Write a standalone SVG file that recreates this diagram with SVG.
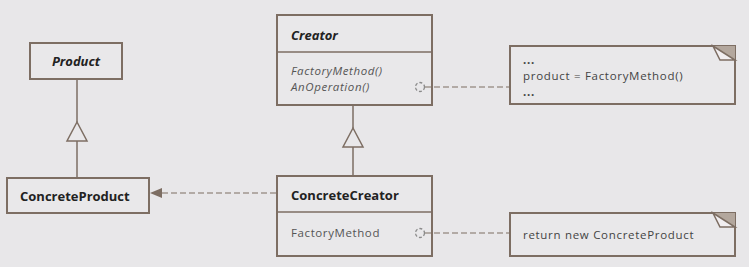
<svg xmlns="http://www.w3.org/2000/svg" width="749" height="267" viewBox="0 0 749 267">
  <style>
    .box { fill: #e9e8ea; stroke: #7d6e63; stroke-width: 2; }
    .line { fill: none; stroke: #7d6e63; stroke-width: 1.5; }
    .dash { fill: none; stroke: #7d6e63; stroke-width: 1.2; stroke-dasharray: 6 3; }
    .tri { fill: #e9e8ea; stroke: #7d6e63; stroke-width: 1.5; }
    .title { font-family: "Open Sans", "DejaVu Sans", sans-serif; font-size: 13px; font-weight: bold; fill: #222; }
    .ital { font-style: italic; }
    .member { font-family: "Open Sans", "DejaVu Sans", sans-serif; font-size: 11.5px; letter-spacing: 0.6px; fill: #555; }
    .note { font-family: "Open Sans", "DejaVu Sans", sans-serif; font-size: 11.5px; letter-spacing: 0.7px; fill: #444; }
    .port { fill: #e9e8ea; stroke: #8a8a8a; stroke-width: 1.3; stroke-dasharray: 3 2; }
  </style>
  <defs>
    <marker id="arrow" markerWidth="12" markerHeight="10" refX="11" refY="5" orient="auto" markerUnits="userSpaceOnUse">
      <path d="M0,0 L12,5 L0,10 Z" fill="#7d6e63"/>
    </marker>
  </defs>
  <rect width="749" height="267" fill="#e8e7e9"/>

  <g id="product">
    <rect class="box" x="30" y="43" width="92" height="36"/>
    <text class="title ital" x="76" y="66" text-anchor="middle">Product</text>
  </g>

  <g id="concrete-product">
    <rect class="box" x="7" y="178" width="142" height="35"/>
    <text class="title" x="20" y="201">ConcreteProduct</text>
  </g>

  <g id="creator">
    <rect class="box" x="277" y="15" width="155" height="90"/>
    <line class="line" x1="277" y1="52" x2="432" y2="52" stroke-width="2"/>
    <text class="title ital" x="291" y="40">Creator</text>
    <text class="member ital" x="291" y="75">FactoryMethod()</text>
    <text class="member ital" x="291" y="91">AnOperation()</text>
  </g>

  <g id="concrete-creator">
    <rect class="box" x="277" y="176" width="155" height="80"/>
    <line class="line" x1="277" y1="212" x2="432" y2="212" stroke-width="2"/>
    <text class="title" x="291" y="200">ConcreteCreator</text>
    <text class="member" x="291" y="237">FactoryMethod</text>
  </g>

  <g id="note-operation">
    <path class="box" d="M510,46 H735 V104 H510 Z"/>
    <polygon points="713,46 735,46 735,60" fill="#b3a79d"/>
    <polygon points="713,46 735,60 720,60" fill="#f1eef0" stroke="#7d6e63" stroke-width="1.5"/>
    <text class="note" x="523" y="64" font-weight="bold">...</text>
    <text class="note" x="523" y="80">product = FactoryMethod()</text>
    <text class="note" x="523" y="96" font-weight="bold">...</text>
  </g>

  <g id="note-factory">
    <path class="box" d="M510,213 H735 V256 H510 Z"/>
    <polygon points="713,213 735,213 735,227" fill="#b3a79d"/>
    <polygon points="713,213 735,227 720,227" fill="#f1eef0" stroke="#7d6e63" stroke-width="1.5"/>
    <text class="note" x="523" y="239">return new ConcreteProduct</text>
  </g>

  <g id="connectors">
    <!-- inheritance: ConcreteProduct -> Product -->
    <line class="line" x1="77" y1="80" x2="77" y2="122"/>
    <line class="line" x1="77" y1="141" x2="77" y2="177"/>
    <polygon class="tri" points="77,122 87,141 67,141"/>
    <!-- inheritance: ConcreteCreator -> Creator -->
    <line class="line" x1="353" y1="106" x2="353" y2="128"/>
    <line class="line" x1="353" y1="147" x2="353" y2="175"/>
    <polygon class="tri" points="353,128 363,147 343,147"/>
    <!-- dependency: ConcreteCreator creates ConcreteProduct -->
    <line class="dash" x1="276" y1="193" x2="151" y2="193" marker-end="url(#arrow)"/>
    <!-- note links -->
    <line class="dash" x1="425" y1="87" x2="509" y2="87"/>
    <circle class="port" cx="420" cy="87" r="4.5"/>
    <line class="dash" x1="425" y1="233" x2="509" y2="233"/>
    <circle class="port" cx="420" cy="233" r="4.5"/>
  </g>
</svg>
